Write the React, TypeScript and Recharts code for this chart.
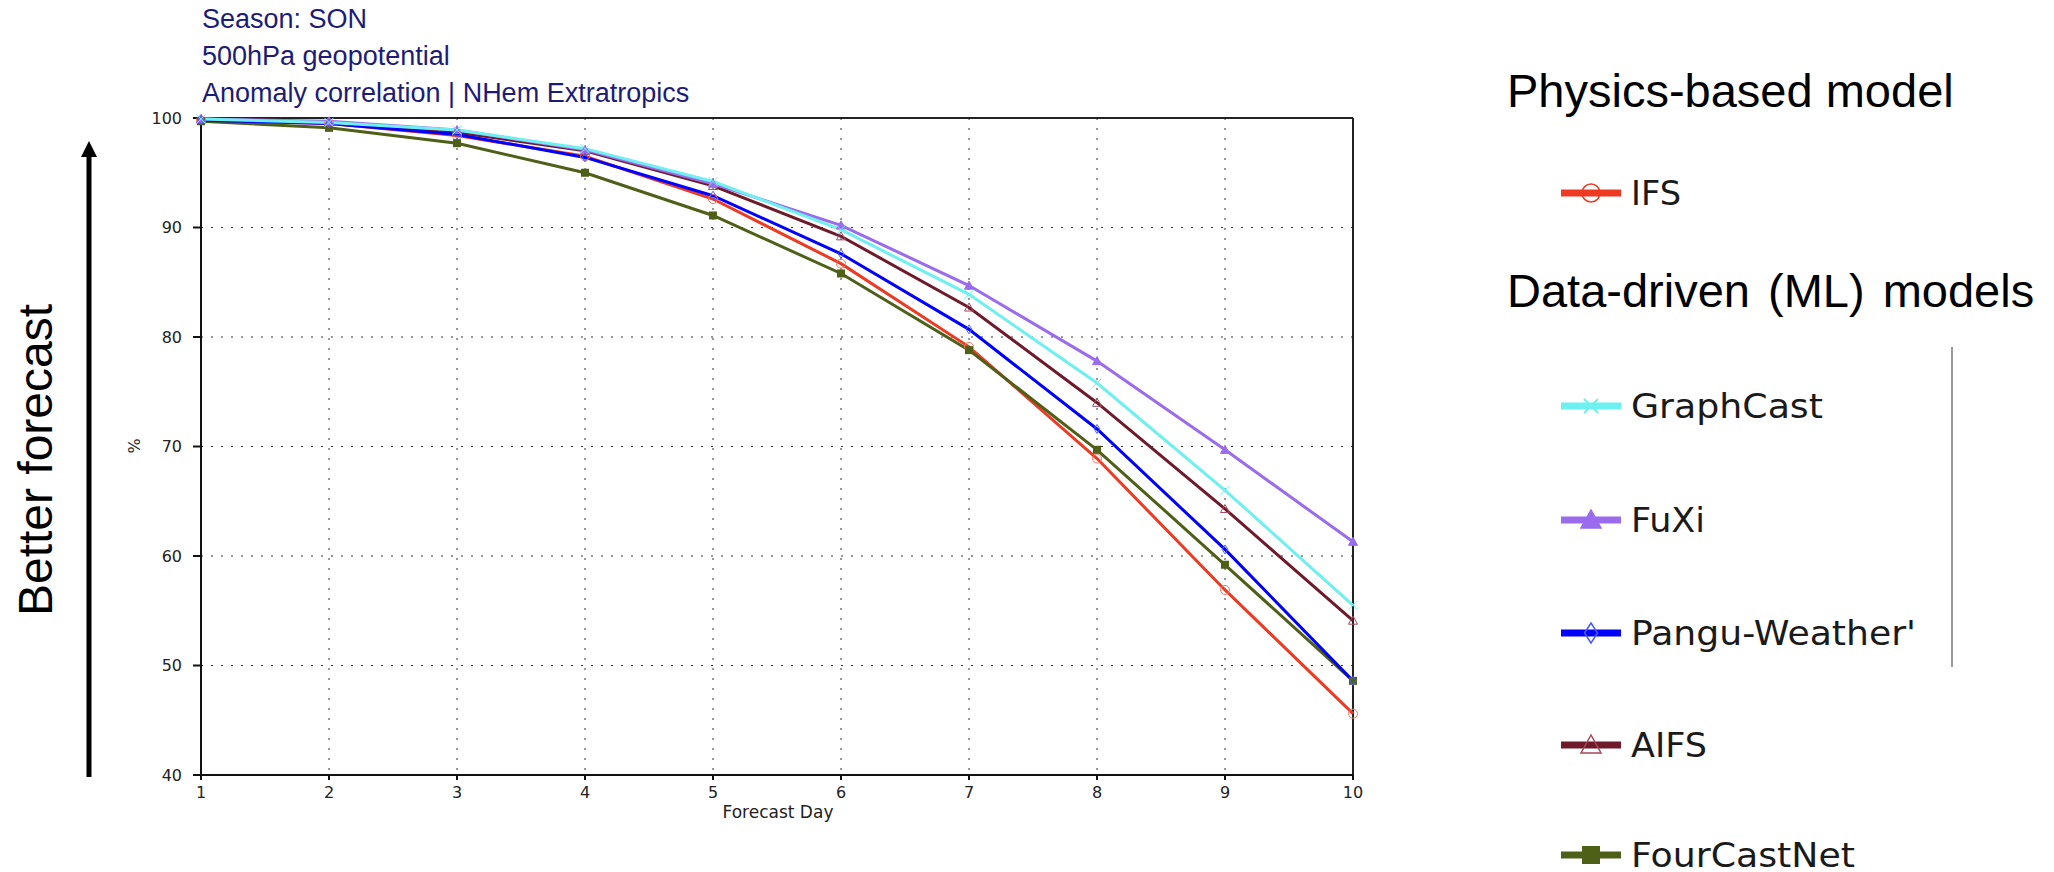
import React from 'react';
import {
  LineChart,
  Line,
  XAxis,
  YAxis,
  CartesianGrid,
  ReferenceLine,
} from 'recharts';

// forecast days and scores (%)
const days = [1, 2, 3, 4, 5, 6, 7, 8, 9, 10];
const ifs = [99.8, 99.5, 98.4, 96.5, 92.6, 86.7, 79.1, 68.9, 56.9, 45.6];
const graphCast = [99.9, 99.6, 98.9, 97.2, 94.2, 89.8, 83.9, 75.8, 66.0, 55.5];
const fuXi = [99.9, 99.7, 98.9, 97.1, 94.0, 90.2, 84.7, 77.8, 69.7, 61.3];
const pangu = [99.8, 99.5, 98.5, 96.4, 92.9, 87.6, 80.7, 71.6, 60.6, 48.6];
const aifs = [99.9, 99.6, 98.7, 97.0, 93.8, 89.2, 82.7, 74.0, 64.3, 54.1];
const fourCastNet = [99.7, 99.1, 97.7, 95.0, 91.1, 85.8, 78.8, 69.7, 59.2, 48.6];

const yTicks = [40, 50, 60, 70, 80, 90, 100];
const titleLines = ['Season: SON', '500hPa geopotential', 'Anomaly correlation | NHem Extratropics'];

type Kind = 'circle' | 'cross' | 'triangle' | 'diamond' | 'triangleOpen' | 'square';

const series: { key: string; label: string; values: number[]; color: string; markColor: string; kind: Kind }[] = [
  { key: 'IFS', label: 'IFS', values: ifs, color: '#ee3a22', markColor: '#f07766', kind: 'circle' },
  { key: 'FourCastNet', label: 'FourCastNet', values: fourCastNet, color: '#4e5f18', markColor: '#4e5f18', kind: 'square' },
  { key: 'AIFS', label: 'AIFS', values: aifs, color: '#6e1a2a', markColor: '#a34a5a', kind: 'triangleOpen' },
  { key: 'FuXi', label: 'FuXi', values: fuXi, color: '#9b6bee', markColor: '#9b6bee', kind: 'triangle' },
  { key: 'Pangu', label: "Pangu-Weather'", values: pangu, color: '#0000ff', markColor: '#4a5cff', kind: 'diamond' },
  { key: 'GraphCast', label: 'GraphCast', values: graphCast, color: '#6ef0f0', markColor: '#6ef0f0', kind: 'cross' },
];

const physicsLegend = ['IFS'];
const mlLegend = ['GraphCast', 'FuXi', 'Pangu', 'AIFS', 'FourCastNet'];

const data = days.map((d, i) => {
  const row: Record<string, number> = { day: d };
  series.forEach((s) => (row[s.key] = s.values[i]));
  return row;
});

function Marker({ kind, cx, cy, s, color, sw }: { kind: Kind; cx: number; cy: number; s: number; color: string; sw: number }) {
  switch (kind) {
    case 'circle':
      return <circle cx={cx} cy={cy} r={s} fill="none" stroke={color} strokeWidth={sw} />;
    case 'cross':
      return (
        <g stroke={color} strokeWidth={sw}>
          <line x1={cx - s} y1={cy - s} x2={cx + s} y2={cy + s} />
          <line x1={cx - s} y1={cy + s} x2={cx + s} y2={cy - s} />
        </g>
      );
    case 'triangle':
    case 'triangleOpen':
      return (
        <polygon
          points={`${cx},${cy - s} ${cx - s},${cy + s * 0.8} ${cx + s},${cy + s * 0.8}`}
          fill={kind === 'triangle' ? color : 'none'}
          stroke={color}
          strokeWidth={sw}
        />
      );
    case 'diamond':
      return (
        <polygon
          points={`${cx},${cy - s} ${cx + s * 0.65},${cy} ${cx},${cy + s} ${cx - s * 0.65},${cy}`}
          fill="none"
          stroke={color}
          strokeWidth={sw}
        />
      );
    case 'square':
      return <rect x={cx - s} y={cy - s} width={s * 2} height={s * 2} fill={color} />;
  }
  return null;
}

// legend row placement: centre y and text width
const legendPos: Record<string, { y: number; w: number }> = {
  IFS: { y: 193, w: 50 },
  GraphCast: { y: 406, w: 192 },
  FuXi: { y: 520, w: 74 },
  Pangu: { y: 633, w: 285 },
  AIFS: { y: 745, w: 76 },
  FourCastNet: { y: 855, w: 224 },
};

function LegendEntry({ k }: { k: string }) {
  const s = series.find((x) => x.key === k)!;
  const { y, w } = legendPos[k];
  const size = s.kind === 'circle' ? 9 : s.kind === 'square' ? 9 : s.kind === 'cross' ? 7 : 10;
  return (
    <g>
      <line x1={1561} y1={y} x2={1621} y2={y} stroke={s.color} strokeWidth={7} />
      <Marker kind={s.kind} cx={1591} cy={y} s={size} color={s.kind === 'circle' ? s.color : s.markColor} sw={s.kind === 'cross' ? 2 : 1.5} />
      <text
        x={1631}
        y={y + 12}
        fontFamily="DejaVu Sans"
        fontSize={34}
        fill="#1a1a1a"
        textLength={w}
        lengthAdjust="spacingAndGlyphs"
      >
        {s.label}
      </text>
    </g>
  );
}

export default function App() {
  return (
    <div style={{ position: 'relative', width: 2054, height: 872, background: '#fff' }}>
      <style>{'body{margin:0}'}</style>
      <LineChart width={2054} height={872} data={data} margin={{ top: 118, right: 701, bottom: 0, left: 0 }}>
        <CartesianGrid stroke="#333" strokeDasharray="2 8" />
        <XAxis
          dataKey="day"
          type="number"
          domain={[1, 10]}
          ticks={days}
          height={97}
          stroke="#111"
          strokeWidth={2}
          tickSize={5}
          tickMargin={7}
          tick={{ fill: '#222', fontFamily: 'DejaVu Sans', fontSize: 16 }}
        />
        <YAxis
          type="number"
          domain={[40, 100]}
          ticks={yTicks}
          width={201}
          stroke="#111"
          strokeWidth={2}
          tickSize={8}
          tickMargin={11}
          tick={{ fill: '#222', fontFamily: 'DejaVu Sans', fontSize: 16 }}
        />
        <ReferenceLine y={100} stroke="#222" strokeWidth={2} />
        <ReferenceLine x={10} stroke="#222" strokeWidth={2} />
        {series.map((s) => (
          <Line
            key={s.key}
            dataKey={s.key}
            stroke={s.color}
            strokeWidth={3}
            isAnimationActive={false}
            activeDot={false}
            dot={(p: any) => (
              <Marker
                key={`${s.key}-${p.index}`}
                kind={s.kind}
                cx={p.cx}
                cy={p.cy}
                s={s.kind === 'square' ? 4 : 4.5}
                color={s.markColor}
                sw={1}
              />
            )}
          />
        ))}
      </LineChart>
      <svg width={2054} height={872} style={{ position: 'absolute', left: 0, top: 0, pointerEvents: 'none' }}>
        {titleLines.map((t, i) => (
          <text key={t} x={202} y={28 + i * 37} fontFamily="Liberation Sans" fontSize={27} fill="#1c1c78">
            {t}
          </text>
        ))}
        <text
          x={52}
          y={460}
          transform="rotate(-90 52 460)"
          textAnchor="middle"
          fontFamily="Liberation Sans"
          fontSize={48}
          fill="#000"
        >
          Better forecast
        </text>
        <line x1={89} y1={777} x2={89} y2={154} stroke="#000" strokeWidth={5} />
        <polygon points="81,157 97,157 89,141" fill="#000" />
        <text x={140} y={446} transform="rotate(-90 140 446)" textAnchor="middle" fontFamily="DejaVu Sans" fontSize={16} fill="#222">
          %
        </text>
        <text x={778} y={818} textAnchor="middle" fontFamily="DejaVu Sans" fontSize={17} fill="#222">
          Forecast Day
        </text>

        <text x={1507} y={107} fontFamily="Liberation Sans" fontSize={47} fill="#000">
          Physics-based model
        </text>
        {physicsLegend.map((k) => (
          <LegendEntry key={k} k={k} />
        ))}
        <text x={1507} y={307} fontFamily="Liberation Sans" fontSize={47} wordSpacing={5} fill="#000">
          Data-driven (ML) models
        </text>
        {mlLegend.map((k) => (
          <LegendEntry key={k} k={k} />
        ))}
        <line x1={1952} y1={347} x2={1952} y2={667} stroke="#999" strokeWidth={2} />
      </svg>
    </div>
  );
}
